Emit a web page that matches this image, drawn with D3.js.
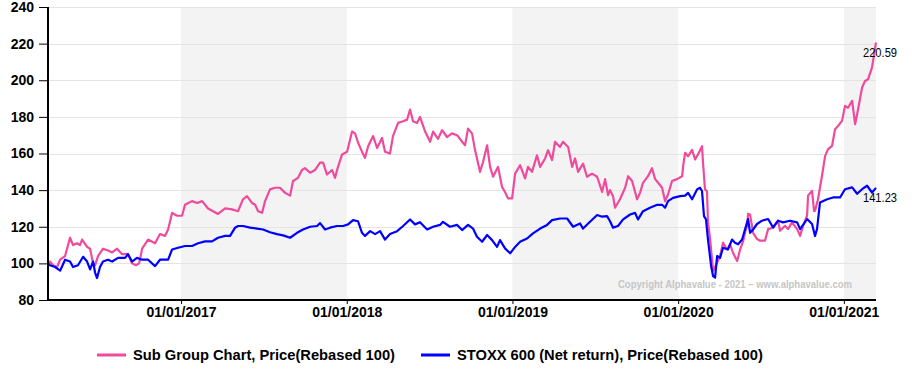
<!DOCTYPE html>
<html><head><meta charset="utf-8">
<script src="https://cdn.jsdelivr.net/npm/d3@7"></script>
<style>
body{margin:0;background:#fff}
svg{display:block;font-family:"Liberation Sans",Arial,sans-serif}
</style>
</head><body>
<svg id="chart" width="920" height="372"></svg>
<script>
// ---------- data ----------
const seriesNames = ["Sub Group Chart, Price(Rebased 100)", "STOXX 600 (Net return), Price(Rebased 100)"];
const seriesColors = ["#ef4a9c", "#0000ff"];
const yTicks = [80, 100, 120, 140, 160, 180, 200, 220, 240];
const xTickYears = [2017, 2018, 2019, 2020, 2021];
const shadedYears = [2017, 2019, 2021];
const copyrightText = "Copyright Alphavalue - 2021 \u2013 www.alphavalue.com";

// [decimal year, rebased value]
const subGroupSeries = [
[2016.197,100],[2016.209,101],[2016.228,99],[2016.252,98],[2016.270,102],[2016.300,104],[2016.330,114],[2016.348,110],[2016.372,111],[2016.390,110],
[2016.403,113],[2016.433,109],[2016.451,108],[2016.469,100],[2016.481,99],[2016.499,104],[2016.529,108],[2016.559,107],[2016.584,106],[2016.614,108],
[2016.644,105],[2016.680,105],[2016.704,100],[2016.728,99],[2016.747,100],[2016.765,108],[2016.801,113],[2016.843,111],[2016.873,116],[2016.903,115],
[2016.922,118.5],[2016.946,127.6],[2016.976,126],[2017.006,126],[2017.024,132],[2017.066,134],[2017.097,133],[2017.127,134],[2017.163,130],[2017.223,127],
[2017.266,130],[2017.308,129.5],[2017.344,128.5],[2017.374,135],[2017.398,136.7],[2017.428,133],[2017.447,132],[2017.465,128.5],[2017.489,127.6],[2017.507,134],
[2017.537,140.4],[2017.567,141.3],[2017.597,141.3],[2017.628,138.5],[2017.658,137],[2017.676,145],[2017.706,146.7],[2017.730,151],[2017.748,152],[2017.779,149.5],
[2017.809,151],[2017.839,155],[2017.857,155],[2017.881,148.5],[2017.911,151],[2017.929,146.7],[2017.948,153],[2017.972,159.5],[2018.002,161],[2018.032,172],
[2018.050,171],[2018.068,166],[2018.092,161],[2018.110,157.6],[2018.129,164],[2018.159,169.5],[2018.183,163],[2018.213,168.5],[2018.231,161],[2018.261,160],
[2018.279,169.5],[2018.310,176.7],[2018.340,177.6],[2018.364,178.5],[2018.382,184],[2018.400,177.6],[2018.424,176.7],[2018.442,180],[2018.473,172],[2018.503,166.4],
[2018.521,172],[2018.551,168],[2018.575,172.7],[2018.605,169],[2018.635,171],[2018.666,170],[2018.696,166.4],[2018.714,164.5],[2018.732,173.6],[2018.756,171],
[2018.774,162],[2018.804,150],[2018.823,155.5],[2018.847,164.5],[2018.865,152.7],[2018.883,147.3],[2018.913,152.7],[2018.937,141.8],[2018.955,139],[2018.973,135.5],
[2018.998,135.5],[2019.016,149],[2019.046,153.6],[2019.076,146.4],[2019.094,152.7],[2019.118,150],[2019.148,159],[2019.167,152.7],[2019.197,157.3],[2019.215,161.8],
[2019.239,156.4],[2019.257,166.4],[2019.287,163.6],[2019.305,166.4],[2019.336,163.6],[2019.360,152.7],[2019.378,157.3],[2019.396,150],[2019.426,154.5],[2019.450,147.3],
[2019.480,149],[2019.511,147.3],[2019.541,139],[2019.559,146],[2019.577,137.3],[2019.589,140],[2019.607,136.7],[2019.619,130.4],[2019.649,135],[2019.680,141.3],
[2019.698,147.6],[2019.722,145],[2019.752,135],[2019.770,138.5],[2019.788,144],[2019.818,147.6],[2019.842,152],[2019.861,146],[2019.879,144],[2019.903,141.3],
[2019.921,134],[2019.939,137.6],[2019.963,145],[2019.993,146],[2020.024,147.6],[2020.030,153],[2020.042,160.4],[2020.060,158.5],[2020.084,162],[2020.102,156.7],
[2020.120,159.5],[2020.144,164],[2020.150,155],[2020.162,140.4],[2020.174,139.5],[2020.180,123],[2020.193,113],[2020.211,96],[2020.235,100.4],[2020.253,104],
[2020.271,111.3],[2020.295,107.6],[2020.313,110.4],[2020.331,105.8],[2020.356,101.3],[2020.374,107.6],[2020.392,112],[2020.404,117],[2020.416,120.4],[2020.422,127],
[2020.434,126.7],[2020.452,116.7],[2020.476,113.3],[2020.494,112.4],[2020.524,112.4],[2020.543,118.7],[2020.573,119.6],[2020.603,123.3],[2020.615,117.8],[2020.645,120.5],
[2020.663,118.7],[2020.687,122.4],[2020.718,118.7],[2020.736,115],[2020.754,120.5],[2020.778,126],[2020.784,137],[2020.808,139.6],[2020.820,128.7],[2020.826,128.7],
[2020.844,135],[2020.868,147.8],[2020.887,158.7],[2020.905,162.4],[2020.929,164.2],[2020.947,173.3],[2020.965,175],[2020.989,177.8],[2021.007,186],[2021.025,185],
[2021.050,188.7],[2021.068,176],[2021.086,184.2],[2021.110,196],[2021.128,199.6],[2021.146,200.5],[2021.170,207],[2021.194,220.59]
];

const stoxxSeries = [
[2016.197,100],[2016.209,99],[2016.240,98],[2016.270,96],[2016.300,102],[2016.330,101],[2016.348,98],[2016.378,99],[2016.409,103.6],[2016.433,101],
[2016.451,96.7],[2016.469,101],[2016.481,95],[2016.493,92],[2016.511,98],[2016.529,101],[2016.559,102],[2016.584,101],[2016.620,103],[2016.662,103],
[2016.680,105],[2016.704,101],[2016.734,103],[2016.765,102],[2016.801,102],[2016.843,98.5],[2016.873,102],[2016.922,102],[2016.946,107.6],[2016.982,108.5],
[2017.024,109.5],[2017.066,109.5],[2017.103,111],[2017.145,112],[2017.187,112],[2017.223,114],[2017.266,115],[2017.296,115],[2017.326,119.5],[2017.344,120.4],
[2017.374,120.4],[2017.416,119.5],[2017.459,119],[2017.495,118.5],[2017.537,117],[2017.579,116],[2017.616,115.3],[2017.658,114],[2017.700,116.7],[2017.736,118.5],
[2017.779,120],[2017.821,120.4],[2017.839,122],[2017.869,118.5],[2017.899,119.5],[2017.941,120.4],[2017.978,120.4],[2018.008,121.3],[2018.038,123.6],[2018.068,123],
[2018.092,116.7],[2018.110,115],[2018.141,117.6],[2018.171,116],[2018.201,117.6],[2018.231,113],[2018.261,116],[2018.304,117.6],[2018.340,120.4],[2018.382,124],
[2018.412,121.3],[2018.442,122.5],[2018.485,118.5],[2018.521,120],[2018.563,121],[2018.581,122.7],[2018.623,120],[2018.666,121],[2018.696,118.2],[2018.732,121],
[2018.762,119],[2018.786,114.5],[2018.817,111.8],[2018.847,115.5],[2018.877,112.7],[2018.907,109],[2018.925,112.7],[2018.955,108.2],[2018.986,105.5],[2019.016,109],
[2019.046,111.8],[2019.088,113.6],[2019.124,116.4],[2019.167,119],[2019.209,121],[2019.239,123.6],[2019.287,124.5],[2019.330,124.5],[2019.366,120],[2019.408,121.8],
[2019.426,119],[2019.468,122.7],[2019.511,126.4],[2019.541,125.5],[2019.571,125.8],[2019.589,123],[2019.607,119.5],[2019.637,120.4],[2019.668,124],[2019.710,126.7],
[2019.740,127.6],[2019.758,124],[2019.788,128.5],[2019.830,130.4],[2019.873,132],[2019.903,132],[2019.921,130.4],[2019.939,134],[2019.969,135.8],[2020.012,136.7],
[2020.042,137],[2020.060,138.5],[2020.084,135],[2020.114,140.4],[2020.132,141.3],[2020.144,139.5],[2020.156,125.8],[2020.168,124],[2020.180,113],[2020.199,98.5],
[2020.211,93],[2020.223,92.2],[2020.235,104],[2020.253,103],[2020.271,108.5],[2020.301,107.6],[2020.325,113],[2020.343,111.3],[2020.362,110.4],[2020.386,113],
[2020.404,118.7],[2020.422,124.2],[2020.434,116.7],[2020.452,118.5],[2020.476,121.5],[2020.506,123.3],[2020.543,124.2],[2020.573,119.6],[2020.603,123.3],[2020.633,122.4],
[2020.675,123.3],[2020.718,122.4],[2020.736,118.7],[2020.778,124.2],[2020.808,121.5],[2020.826,115],[2020.838,118.7],[2020.856,133.3],[2020.899,135],[2020.935,136],
[2020.977,136],[2021.007,140.5],[2021.050,141.5],[2021.080,138],[2021.110,140.5],[2021.140,142.4],[2021.170,138.7],[2021.194,141.23]
];

// ---------- layout ----------
const L = 48, R = 876, T = 7, B = 300;
const svg = d3.select("#chart");
const allSeries = [subGroupSeries, stoxxSeries];
const tMin = d3.min(allSeries, s => d3.min(s, d => d[0]));
const tMax = d3.max(allSeries, s => d3.max(s, d => d[0]));
const x = d3.scaleLinear().domain([tMin, tMax]).range([L, R]);
const y = d3.scaleLinear().domain([80, 240]).range([B, T]);

// shaded year bands
svg.append("g").selectAll("rect").data(shadedYears).join("rect")
  .attr("x", d => x(d))
  .attr("y", T)
  .attr("width", d => x(Math.min(d + 1, tMax)) - x(d))
  .attr("height", B - T)
  .attr("fill", "#f3f3f3");

// gridlines
svg.append("g").selectAll("line").data(yTicks.filter(v => v > 80)).join("line")
  .attr("x1", L).attr("x2", R)
  .attr("y1", d => Math.round(y(d)) + 0.5).attr("y2", d => Math.round(y(d)) + 0.5)
  .attr("stroke", "#e4e4e4").attr("stroke-width", 1);

// copyright
svg.append("text")
  .attr("x", 852).attr("y", 288)
  .attr("text-anchor", "end")
  .attr("font-size", 10).attr("font-weight", "bold")
  .attr("fill", "#c6c6c6")
  .attr("textLength", 234).attr("lengthAdjust", "spacingAndGlyphs")
  .text(copyrightText);

// lines
const line = d3.line().x(d => x(d[0])).y(d => y(d[1]));
allSeries.forEach((s, i) => {
  svg.append("path").datum(s)
    .attr("d", line)
    .attr("fill", "none")
    .attr("stroke", seriesColors[i])
    .attr("stroke-width", 2.2)
    .attr("stroke-linejoin", "round");
});

// axes
const yAxis = d3.axisLeft(y).tickValues(yTicks).tickSize(9).tickSizeOuter(0).tickPadding(5);
const gy = svg.append("g").attr("transform", `translate(${L},0)`).call(yAxis);
gy.select(".domain").remove();
gy.selectAll(".tick line").attr("stroke", "#000");
gy.selectAll("text").attr("font-size", 14).attr("font-weight", "bold").attr("fill", "#000")
  .attr("font-family", "'Liberation Sans',Arial,sans-serif");

const xAxis = d3.axisBottom(x).tickValues(xTickYears).tickFormat(d => "01/01/" + d)
  .tickSize(4).tickSizeOuter(0).tickPadding(3);
const gx = svg.append("g").attr("transform", `translate(0,${B})`).call(xAxis);
gx.select(".domain").remove();
gx.selectAll(".tick line").attr("stroke", "#000");
gx.selectAll("text").attr("font-size", 14).attr("font-weight", "bold").attr("fill", "#000")
  .attr("font-family", "'Liberation Sans',Arial,sans-serif");

// axis lines
svg.append("path")
  .attr("d", `M${L},${T}V${B}H${R}`)
  .attr("fill", "none").attr("stroke", "#000").attr("stroke-width", 2);

// end labels
allSeries.forEach(s => {
  const last = s[s.length - 1];
  svg.append("text")
    .attr("x", 863).attr("y", y(last[1]) + 14)
    .attr("font-size", 12).attr("fill", "#000")
    .attr("textLength", 34).attr("lengthAdjust", "spacingAndGlyphs")
    .text(last[1].toFixed(2));
});

// legend
const legendX = [97, 421];
seriesNames.forEach((name, i) => {
  const g = svg.append("g").attr("transform", `translate(${legendX[i]},355)`);
  g.append("line").attr("x1", 0).attr("x2", 29).attr("y1", 0).attr("y2", 0)
    .attr("stroke", seriesColors[i]).attr("stroke-width", 3);
  g.append("text").attr("x", 36).attr("y", 5)
    .attr("font-size", 14.7).attr("font-weight", "bold").attr("fill", "#000")
    .text(name);
});
</script>
</body></html>
